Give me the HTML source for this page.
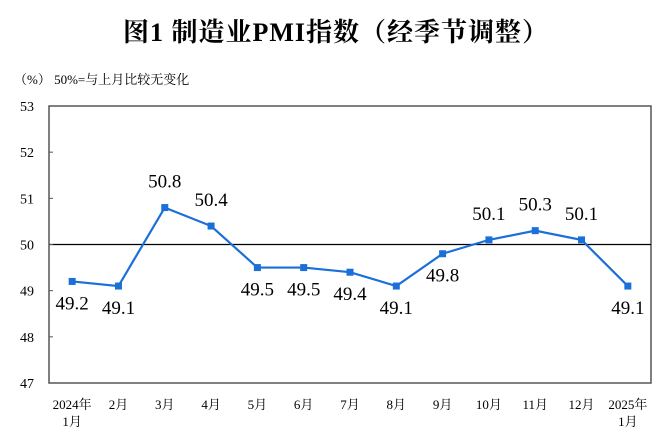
<!DOCTYPE html>
<html><head><meta charset="utf-8"><style>
body{margin:0;background:#fff;}
svg{display:block;font-family:"Liberation Serif","Noto Serif CJK SC",serif;}
</style></head><body>
<svg id="c" width="672" height="448">
<text x="336" y="41" text-anchor="middle" font-size="26" font-weight="bold" letter-spacing="1" fill="#000">图1  制造业PMI指数（经季节调整）</text>
<text x="14" y="84" font-size="13" fill="#000">（%）  50%=与上月比较无变化</text>
<g id="g"></g>
</svg>
<script>
const categories=["2024年|1月","2月","3月","4月","5月","6月","7月","8月","9月","10月","11月","12月","2025年|1月"];
const values=[49.2,49.1,50.8,50.4,49.5,49.5,49.4,49.1,49.8,50.1,50.3,50.1,49.1];
const yTicks=[47,48,49,50,51,52,53];
const labelAbove=[false,false,true,true,false,false,false,false,false,true,true,true,false];
const L=49,R=651,T=106,B=383;
const ns="http://www.w3.org/2000/svg";
const g=document.getElementById('g');
const x=i=>L+(R-L)/categories.length*(i+0.5);
const y=v=>B-(v-47)/(53-47)*(B-T);
function mk(t,a){const e=document.createElementNS(ns,t);for(const k in a)e.setAttribute(k,a[k]);g.appendChild(e);return e;}
let fr=mk('rect',{x:L,y:T,width:R-L,height:B-T,fill:'none',stroke:'#555','stroke-width':1.5});


let ref=mk('line',{x1:L,x2:R,y1:y(50),y2:y(50),stroke:'#000','stroke-width':1.3});


yTicks.forEach(v=>{
 mk('line',{x1:L,x2:L+4,y1:y(v),y2:y(v),stroke:'#555'});
 let t=mk('text',{x:L-22,y:y(v)+5,'font-size':14,'text-anchor':'middle'});t.textContent=v;
 
 
});
categories.forEach((c,i)=>{
 const parts=c.split('|');
 parts.forEach((p,j)=>{
  let t=mk('text',{x:x(i),y:409+j*17,'font-size':13,'text-anchor':'middle'});t.textContent=p;
  
  
 });
});
let pl=mk('polyline',{points:values.map((v,i)=>x(i)+','+y(v)).join(' '),fill:'none',stroke:'#1a6fd8','stroke-width':2.2});


values.forEach((v,i)=>{
 let m=mk('rect',{x:x(i)-3.5,y:y(v)-3.5,width:7,height:7,fill:'#1a6fd8'});
 
 
 let t=mk('text',{x:x(i),y:labelAbove[i]?y(v)-20:y(v)+28,'font-size':19,'text-anchor':'middle'});
 t.textContent=v.toFixed(1);
 
 
});
</script>
</body></html>
